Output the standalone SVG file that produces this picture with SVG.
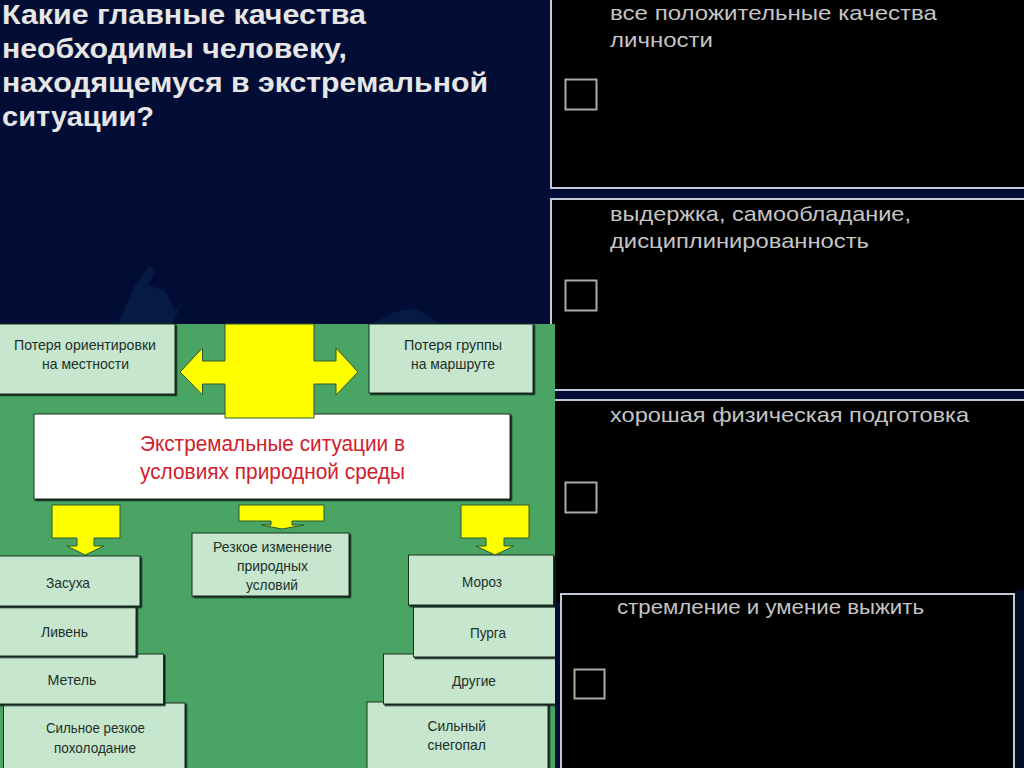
<svg xmlns="http://www.w3.org/2000/svg" width="1024" height="768" viewBox="0 0 1024 768">
<defs>
<filter id="sh" x="-5%" y="-5%" width="110%" height="110%"><feDropShadow dx="1.500" dy="1.500" stdDeviation="0.500" flood-color="#0c1f12"/></filter>
<clipPath id="gc"><rect x="0" y="324" width="555" height="444"/></clipPath>
</defs>
<style>
text{font-family:"Liberation Sans",Arial,sans-serif}
.t{font-size:27px;font-weight:bold;fill:#e6e6e6}
.a{font-size:21px;fill:#c4c4c4}
.l{font-size:14.500px;fill:#22302a}
.r{font-size:22px;fill:#d0202c}
.b{fill:#c6e6cd;stroke:#16301e;stroke-width:1;filter:url(#sh)}
.w{fill:#fff;stroke:#16301e;stroke-width:1;filter:url(#sh)}
.y{fill:#ffff00;stroke:#2c5a2c;stroke-width:1}
.p{fill:#000;stroke:#c3c8d8;stroke-width:2}
.c{fill:none;stroke:#aaaaaa;stroke-width:2}
</style>
<rect id="background" width="1024" height="768" fill="#020d35"/>
<g id="silhouette" fill="#071a42">
<path d="M118 324 L135 285 L150 265 L155 272 L148 285 L165 290 L175 310 L184 300 L172 324Z"/>
<path d="M372 324 L395 312 L415 308 L440 324Z"/>
</g>
<g id="question">
<text class="t" x="2" y="23.500" textLength="364" lengthAdjust="spacingAndGlyphs">Какие главные качества</text>
<text class="t" x="2" y="57.500" textLength="345" lengthAdjust="spacingAndGlyphs">необходимы человеку,</text>
<text class="t" x="2" y="92" textLength="486" lengthAdjust="spacingAndGlyphs">находящемуся в экстремальной</text>
<text class="t" x="2" y="126" textLength="152" lengthAdjust="spacingAndGlyphs">ситуации?</text>
</g>
<g id="answer-1">
<rect class="p" x="551" y="-5" width="490" height="193"/>
<text class="a" x="610" y="20" textLength="327" lengthAdjust="spacingAndGlyphs">все положительные качества</text>
<text class="a" x="610" y="47" textLength="103" lengthAdjust="spacingAndGlyphs">личности</text>
<rect class="c" x="565.500" y="79.500" width="31" height="30"/>
</g>
<g id="answer-2">
<rect class="p" x="551" y="199" width="490" height="191"/>
<text class="a" x="610" y="221" textLength="301" lengthAdjust="spacingAndGlyphs">выдержка, самообладание,</text>
<text class="a" x="610" y="248" textLength="259" lengthAdjust="spacingAndGlyphs">дисциплинированность</text>
<rect class="c" x="565.500" y="280.500" width="31" height="30"/>
</g>
<g id="answer-3">
<rect class="p" x="551" y="400" width="490" height="200"/>
<rect x="552" y="590" width="472" height="12" fill="#000"/>
<text class="a" x="610" y="422" textLength="359" lengthAdjust="spacingAndGlyphs">хорошая физическая подготовка</text>
<rect class="c" x="565.500" y="482.500" width="31" height="30"/>
</g>
<rect id="answer-4-surround" x="1015" y="590" width="9" height="178" fill="#020c22"/>
<g id="answer-4">
<rect class="p" x="561" y="594" width="453" height="185"/>
<text class="a" x="617" y="614" textLength="307" lengthAdjust="spacingAndGlyphs">стремление и умение выжить</text>
<rect class="c" x="574.500" y="669.500" width="30" height="29"/>
</g>
<rect id="panel-green" x="0" y="324" width="555" height="444" fill="#4aa564"/>
<g id="loss-orientation">
<rect class="b" x="-3" y="324" width="178" height="70"/>
<text class="l" x="14" y="350" textLength="142" lengthAdjust="spacingAndGlyphs">Потеря ориентировки</text>
<text class="l" x="42" y="369" textLength="87" lengthAdjust="spacingAndGlyphs">на местности</text>
</g>
<g id="loss-group">
<rect class="b" x="369" y="324" width="164" height="69"/>
<text class="l" x="404" y="350" textLength="98" lengthAdjust="spacingAndGlyphs">Потеря группы</text>
<text class="l" x="411" y="369" textLength="84" lengthAdjust="spacingAndGlyphs">на маршруте</text>
</g>
<g id="sudden-change">
<rect class="b" x="192" y="533" width="157" height="63"/>
<text class="l" x="213" y="552" textLength="119" lengthAdjust="spacingAndGlyphs">Резкое изменение</text>
<text class="l" x="237" y="571" textLength="71" lengthAdjust="spacingAndGlyphs">природных</text>
<text class="l" x="246" y="590" textLength="52" lengthAdjust="spacingAndGlyphs">условий</text>
</g>
<g id="cooling">
<rect class="b" x="3.500" y="703" width="181.500" height="80"/>
<text class="l" x="46" y="733" textLength="99" lengthAdjust="spacingAndGlyphs">Сильное резкое</text>
<text class="l" x="54" y="753" textLength="82" lengthAdjust="spacingAndGlyphs">похолодание</text>
</g>
<g id="blizzard">
<rect class="b" x="-3" y="654" width="166.500" height="50"/>
<text class="l" x="47.500" y="685" textLength="49" lengthAdjust="spacingAndGlyphs">Метель</text>
</g>
<g id="downpour">
<rect class="b" x="-3" y="607" width="139" height="49"/>
<text class="l" x="41" y="637" textLength="47" lengthAdjust="spacingAndGlyphs">Ливень</text>
</g>
<g id="drought">
<rect class="b" x="-3" y="556" width="143" height="50"/>
<text class="l" x="46" y="588" textLength="44" lengthAdjust="spacingAndGlyphs">Засуха</text>
</g>
<g id="snowfall">
<rect class="b" x="367" y="702" width="181" height="80"/>
<text class="l" x="427.500" y="731" textLength="58.500" lengthAdjust="spacingAndGlyphs">Сильный</text>
<text class="l" x="427.500" y="750" textLength="58.500" lengthAdjust="spacingAndGlyphs">снегопал</text>
</g>
<g id="other" clip-path="url(#gc)">
<rect class="b" x="383.500" y="654" width="180" height="50"/>
<text class="l" x="452" y="686" textLength="44" lengthAdjust="spacingAndGlyphs">Другие</text>
</g>
<g id="storm" clip-path="url(#gc)">
<rect class="b" x="413.500" y="607" width="150" height="50"/>
<text class="l" x="470" y="638" textLength="36" lengthAdjust="spacingAndGlyphs">Пурга</text>
</g>
<g id="frost">
<rect class="b" x="408.500" y="555" width="145" height="50"/>
<text class="l" x="462" y="587" textLength="40" lengthAdjust="spacingAndGlyphs">Мороз</text>
</g>
<g id="central">
<rect class="w" x="34" y="414" width="476" height="85"/>
<text class="r" x="140" y="451" textLength="265" lengthAdjust="spacingAndGlyphs">Экстремальные ситуации в</text>
<text class="r" x="140" y="479" textLength="265" lengthAdjust="spacingAndGlyphs">условиях природной среды</text>
</g>
<g id="connectors">
<path class="y" d="M225 324H314V361H336V348L358 372L336 395V384H314V418H225V384H202.500V395L180 372L202.500 348V361H225Z"/>
<path class="y" d="M52 505H120V538H94V546H104L85 555L67 546H77V538H52Z"/>
<path class="y" d="M239 505H324V521H292V525H304L282 529L261 525H271V521H239Z"/>
<path class="y" d="M461 505H529V538H504V546H514L495 555L476 546H486V538H461Z"/>
</g>
</svg>
